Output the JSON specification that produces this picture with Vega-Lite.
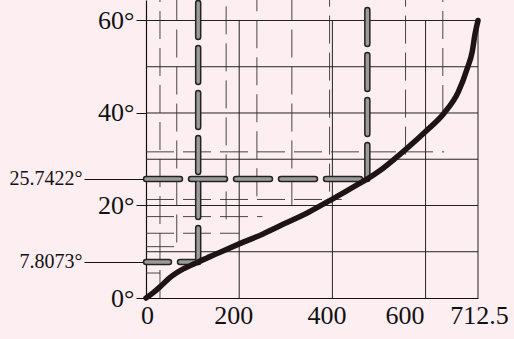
{
  "$schema": "https://vega.github.io/schema/vega-lite/v6.json",
  "width": 332,
  "height": 298,
  "autosize": "none",
  "padding": {"left": 146, "top": 0, "right": 36, "bottom": 41},
  "background": "#fdeef1",
  "config": {
    "view": {"stroke": null},
    "axis": {"labelFont": "Liberation Serif", "labelColor": "#111", "domainColor": "#111", "tickColor": "#111", "domainWidth": 1.2}
  },
  "datasets": {
    "grid": [
      {"x": 0, "x2": 712.5, "y": 10, "y2": 10},
      {"x": 0, "x2": 712.5, "y": 20, "y2": 20},
      {"x": 0, "x2": 712.5, "y": 30, "y2": 30},
      {"x": 0, "x2": 712.5, "y": 40, "y2": 40},
      {"x": 0, "x2": 712.5, "y": 50, "y2": 50},
      {"x": 0, "x2": 712.5, "y": 60, "y2": 60},
      {"x": 200, "x2": 200, "y": 0, "y2": 60},
      {"x": 400, "x2": 400, "y": 0, "y2": 60},
      {"x": 600, "x2": 600, "y": 0, "y2": 60},
      {"x": 712.5, "x2": 712.5, "y": 0, "y2": 60}
    ],
    "minor": [
      {"x": 30, "x2": 30, "y": 0, "y2": 64.43},
      {"x": 66, "x2": 66, "y": 12, "y2": 64.43},
      {"x": 172, "x2": 172, "y": 17, "y2": 64.43},
      {"x": 238, "x2": 238, "y": 22, "y2": 64.43},
      {"x": 313, "x2": 313, "y": 20, "y2": 64.43},
      {"x": 394, "x2": 394, "y": 23, "y2": 64.43},
      {"x": 557, "x2": 557, "y": 31, "y2": 64.43},
      {"x": 637, "x2": 637, "y": 40, "y2": 64.43},
      {"x": 0, "x2": 640, "y": 31.6, "y2": 31.6},
      {"x": 0, "x2": 420, "y": 21.3, "y2": 21.3},
      {"x": 0, "x2": 250, "y": 17.6, "y2": 17.6},
      {"x": 0, "x2": 200, "y": 14.0, "y2": 14.0},
      {"x": 0, "x2": 60, "y": 11.1, "y2": 11.1},
      {"x": 0, "x2": 30, "y": 5.4, "y2": 5.4}
    ],
    "markers": [
      {"kind": "long", "x": 0, "x2": 475, "y": 25.7422, "y2": 25.7422},
      {"kind": "long", "x": 475, "x2": 475, "y": 25.7422, "y2": 64.43},
      {"kind": "short", "x": 0, "x2": 112, "y": 7.8073, "y2": 7.8073},
      {"kind": "long", "x": 112, "x2": 112, "y": 7.8073, "y2": 64.43}
    ],
    "curve": [
      {"x": 0, "y": 0},
      {"x": 15, "y": 1.1},
      {"x": 30, "y": 2.4},
      {"x": 50, "y": 4.3},
      {"x": 65, "y": 5.4},
      {"x": 80, "y": 6.3},
      {"x": 95, "y": 7.0},
      {"x": 112, "y": 7.81},
      {"x": 150, "y": 9.5},
      {"x": 200, "y": 11.7},
      {"x": 250, "y": 13.8},
      {"x": 300, "y": 16.2},
      {"x": 350, "y": 18.6},
      {"x": 400, "y": 21.4},
      {"x": 450, "y": 24.3},
      {"x": 475, "y": 25.74},
      {"x": 500, "y": 27.4},
      {"x": 550, "y": 31.5},
      {"x": 600, "y": 36.0},
      {"x": 640, "y": 40.0},
      {"x": 670, "y": 44.5},
      {"x": 690, "y": 49.8},
      {"x": 700, "y": 53.2},
      {"x": 706, "y": 57.0},
      {"x": 712.5, "y": 60}
    ]
  },
  "layer": [
    {
      "data": {"name": "grid"},
      "mark": {"type": "rule", "color": "#222", "strokeWidth": 1},
      "encoding": {
        "x": {
          "field": "x", "type": "quantitative", "title": null,
          "scale": {"domain": [0, 712.5], "nice": false, "zero": false},
          "axis": {
            "values": [0, 200, 400, 600, 712.5],
            "labelExpr": "datum.value",
            "grid": false, "ticks": false,
            "labelFontSize": 26, "labelPadding": 4, "labelFlush": false,
            "labelOffset": {"condition": [{"test": "datum.value == 600", "value": -21}, {"test": "datum.value == 200 || datum.value == 400", "value": -6}], "value": 1}
          }
        },
        "x2": {"field": "x2"},
        "y": {
          "field": "y", "type": "quantitative", "title": null,
          "scale": {"domain": [0, 64.43], "nice": false, "zero": false},
          "axis": {
            "values": [0, 7.8073, 20, 25.7422, 40, 60],
            "labelExpr": "datum.value + '°'",
            "grid": false,
            "labelFlush": false,
            "labelBaseline": "middle",
            "labelFontSize": {"condition": {"test": "datum.value == 7.8073 || datum.value == 25.7422", "value": 20}, "value": 26},
            "tickSize": {"condition": {"test": "datum.value == 7.8073 || datum.value == 25.7422", "value": 62}, "value": 10},
            "labelPadding": 2
          }
        },
        "y2": {"field": "y2"}
      }
    },
    {
      "data": {"name": "minor"},
      "mark": {"type": "rule", "color": "#333", "strokeWidth": 0.9, "strokeDash": [28, 9]},
      "encoding": {
        "x": {"field": "x", "type": "quantitative", "title": null},
        "x2": {"field": "x2"},
        "y": {"field": "y", "type": "quantitative", "title": null},
        "y2": {"field": "y2"}
      }
    },
    {
      "data": {"name": "markers"},
      "mark": {"type": "rule", "color": "#222", "strokeWidth": 6.5, "strokeCap": "round"},
      "encoding": {
        "x": {"field": "x", "type": "quantitative", "title": null},
        "x2": {"field": "x2"},
        "y": {"field": "y", "type": "quantitative", "title": null},
        "y2": {"field": "y2"},
        "strokeDash": {"field": "kind", "type": "nominal", "scale": {"domain": ["long", "short"], "range": [[34, 11], [23, 11]]}, "legend": null}
      }
    },
    {
      "data": {"name": "markers"},
      "mark": {"type": "rule", "color": "#9a9a9a", "strokeWidth": 3.5, "strokeCap": "round"},
      "encoding": {
        "x": {"field": "x", "type": "quantitative", "title": null},
        "x2": {"field": "x2"},
        "y": {"field": "y", "type": "quantitative", "title": null},
        "y2": {"field": "y2"},
        "strokeDash": {"field": "kind", "type": "nominal", "scale": {"domain": ["long", "short"], "range": [[34, 11], [23, 11]]}, "legend": null}
      }
    },
    {
      "data": {"name": "curve"},
      "mark": {"type": "line", "color": "#1e1414", "strokeWidth": 5.5, "strokeCap": "round", "interpolate": "monotone"},
      "encoding": {
        "x": {"field": "x", "type": "quantitative", "title": null},
        "y": {"field": "y", "type": "quantitative", "title": null}
      }
    }
  ]
}
